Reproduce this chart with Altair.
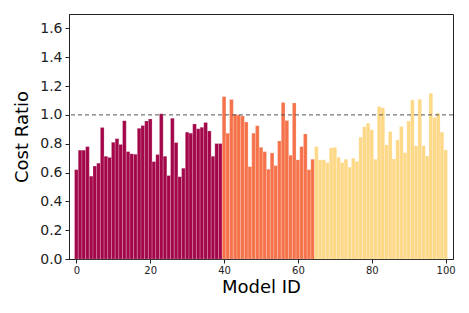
import altair as alt
import pandas as pd

model_ids = list(range(101))
cost_ratio = [
    0.62, 0.755, 0.755, 0.78, 0.575, 0.645, 0.665, 0.912, 0.713, 0.705,
    0.81, 0.835, 0.795, 0.96, 0.745, 0.73, 0.727, 0.907, 0.926, 0.958,
    0.972, 0.676, 0.725, 1.007, 0.713, 0.579, 0.977, 0.808, 0.571, 0.63,
    0.88, 0.873, 0.937, 0.903, 0.914, 0.947, 0.889, 0.713, 0.801, 0.801,
    1.127, 0.873, 1.106, 1.005, 1.0, 0.993, 0.951, 0.641, 0.873, 0.924,
    0.775, 0.745, 0.623, 0.736, 0.648, 0.819, 1.086, 0.961, 0.72, 1.083,
    0.688, 0.78, 0.868, 0.62, 0.692,
    0.78, 0.688, 0.688, 0.669, 0.771, 0.775, 0.706, 0.669, 0.692, 0.637,
    0.699, 0.678, 0.845, 0.917, 0.942, 0.896, 0.692, 1.058, 1.049, 0.792,
    0.884, 0.694, 0.826, 0.919, 0.738, 0.958, 1.104, 0.785, 1.109, 0.787,
    0.715, 1.15, 0.981, 1.012, 0.88, 0.757,
]
groups = ["A"] * 40 + ["B"] * 25 + ["C"] * 36
group_colors = ["#a3074a", "#f5724a", "#fdd886"]
x_ticks = [0, 20, 40, 60, 80, 100]
y_ticks = [0.0, 0.2, 0.4, 0.6, 0.8, 1.0, 1.2, 1.4, 1.6]
reference_level = [1.0]

df = pd.DataFrame({"id": model_ids, "ratio": cost_ratio, "group": groups})
df["x0"] = df["id"] - 0.5
df["x1"] = df["id"] + 0.5

font = "DejaVu Sans"
yscale = alt.Scale(domain=[0, 1.7], nice=False)
yaxis = alt.Axis(values=y_ticks, title="Cost Ratio", format=".1f", labelFontSize=14,
                 titleFontSize=18, titleFontWeight="normal", grid=False,
                 tickSize=4, labelPadding=3, titlePadding=8, labelOverlap=False,
                 labelFlush=False,
                 domainColor="#222", tickColor="#222", labelColor="#222",
                 titleColor="#000", labelFont=font, titleFont=font)

bars = alt.Chart(df).mark_rect(stroke="white", strokeWidth=0.4, strokeOpacity=0.5).encode(
    x=alt.X("x0:Q", scale=alt.Scale(domain=[-2, 102], nice=False, zero=False),
            axis=alt.Axis(values=x_ticks, title="Model ID", format="d", labelFontSize=10,
                          titleFontSize=18, titleFontWeight="normal", grid=False,
                          tickSize=4, labelPadding=2, titlePadding=3, labelOverlap=False,
                          domainColor="#222", tickColor="#222", labelColor="#222",
                          titleColor="#000", labelFont=font, titleFont=font)),
    x2="x1:Q",
    y=alt.Y("ratio:Q", scale=yscale, axis=yaxis),
    y2=alt.datum(0),
    color=alt.Color("group:N", scale=alt.Scale(domain=["A", "B", "C"], range=group_colors),
                    legend=None),
)

rule = alt.Chart(pd.DataFrame({"y": reference_level})).mark_rule(
    color="#555", strokeDash=[4, 3], strokeWidth=1
).encode(y=alt.Y("y:Q", scale=yscale, axis=yaxis))

chart = alt.layer(bars, rule).properties(
    width=384, height=245,
    autosize=alt.AutoSizeParams(type="none"),
    padding={"left": 61, "top": 6, "right": 6, "bottom": 46},
).configure(
    background="white",
    view=alt.ViewConfig(stroke="#222", strokeWidth=1),
)

chart.save("out.html", embed_options={"renderer": "svg", "actions": False})
